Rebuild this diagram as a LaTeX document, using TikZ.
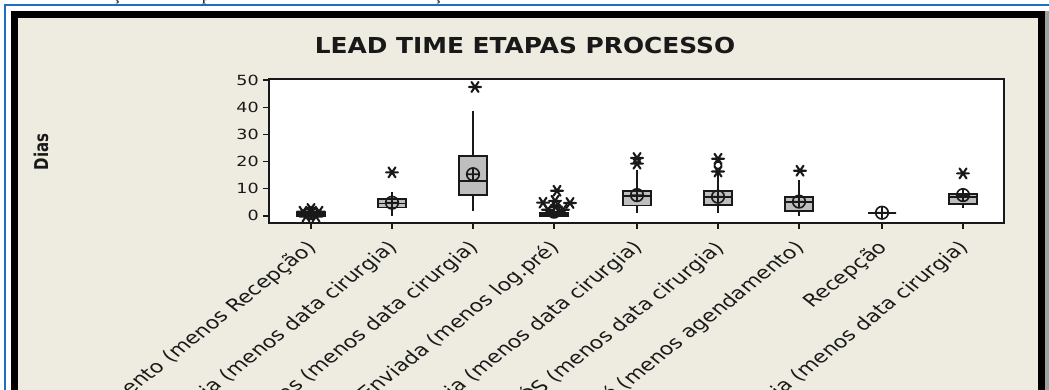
\documentclass[tikz,border=0pt]{standalone}
\usepackage{fontspec}
\setmainfont{DejaVu Sans}
\newfontfamily\capfont{Liberation Serif}
\definecolor{beige}{RGB}{238,235,225}
\definecolor{frameblue}{RGB}{30,112,190}
\definecolor{boxgray}{RGB}{190,190,190}
\definecolor{ink}{RGB}{25,25,25}
\definecolor{edgegray}{RGB}{160,160,160}
\newcommand\bxp[7]{% x, q1, q3, med, wlo, whi, mean
  \draw[whisk] (#1,{vy(#5)}) -- (#1,{vy(#6)});
  \draw[boxst] ({#1-14},{vy(#2)}) rectangle ({#1+14},{vy(#3)});
  \draw[medst] ({#1-14},{vy(#4)}) -- ({#1+14},{vy(#4)});
  \draw[meanst] (#1,{vy(#7)}) circle (6.3) +(-6.3,0) -- +(6.3,0) +(0,-6.3) -- +(0,6.3);
}
\newcommand\mstar[2]{%
  \draw[starst] (#1,{vy(#2)}) +(-6,0) -- +(6,0) +(-3.5,-5) -- +(3.5,5) +(-3.5,5) -- +(3.5,-5);
}
\begin{document}
\begin{tikzpicture}[x=1pt,y=-1pt,
  declare function={vy(\v)=215.7-2.71*\v;},
  whisk/.style={line width=2pt, draw=ink},
  boxst/.style={line width=1.8pt, draw=ink, fill=boxgray},
  medst/.style={line width=1.8pt, draw=ink},
  meanst/.style={line width=1.6pt, draw=ink},
  starst/.style={line width=2.1pt, draw=ink, line cap=round},
  axisline/.style={line width=2pt, draw=ink},
  tickst/.style={line width=1.6pt, draw=ink},
  ticklab/.style={font=\fontsize{14}{14}\selectfont, text=ink, anchor=east, inner sep=0pt, xscale=1.25},
  catlab/.style={font=\fontsize{17.5}{17.5}\selectfont, text=ink, anchor=east, inner sep=0pt, xscale=1.27, rotate=45},
  ]
\useasboundingbox (0,0) rectangle (1049,389);
\clip (0,0) rectangle (1049,389);
% background and frames
\fill[white] (0,0) rectangle (1049,389);
\fill[black] (11,11) rectangle (1045,400);
\fill[edgegray] (1045,11) rectangle (1049,400);
\fill[beige] (18,18) rectangle (1038,400);
\draw[frameblue, line width=2pt] (5,400) -- (5,5) -- (1049,5);
% cut caption fragments at the very top
\node[font=\capfont\fontsize{16}{16}\selectfont, anchor=base, inner sep=0pt] (c1) at (117,0.5) {ç};
\node[font=\capfont\fontsize{16}{16}\selectfont, anchor=base, inner sep=0pt] (c2) at (206,0.5) {p};
\node[font=\capfont\fontsize{16}{16}\selectfont, anchor=base, inner sep=0pt] (c3) at (438,0.5) {ç};
% title and axis title
\node[font=\bfseries\fontsize{22}{22}\selectfont, text=ink, inner sep=0pt, xscale=1.13] (title) at (525,45) {LEAD TIME ETAPAS PROCESSO};
\node[font=\bfseries\fontsize{15}{15}\selectfont, text=ink, inner sep=0pt, xscale=1.27, rotate=90] (dias) at (41,152) {Dias};
% plot area
\fill[white] (269,79) rectangle (1004,223);
% y ticks
\foreach \v in {0,10,20,30,40,50} {
  \draw[tickst] (263,{vy(\v)}) -- (269,{vy(\v)});
  \node[ticklab] (yl\v) at (259,{vy(\v)}) {\v};
}
% categories
\foreach \i/\x in {1/311,2/392,3/473,4/554,5/637,6/718,7/799,8/882,9/963} {
  \draw[tickst] (\x,223) -- (\x,229);
}
% box plots
% 1
\bxp{311}{0}{1}{0.5}{0}{1}{1}
\mstar{303}{1.5}\mstar{319}{1.5}\mstar{311}{2.5}\mstar{306}{-0.3}\mstar{316}{-0.3}\mstar{311}{0.8}
% 2
\bxp{392}{3}{6.2}{4.5}{0}{8.7}{4.8}
\mstar{392}{16}
% 3
\bxp{473}{7.6}{22}{12.9}{1.8}{38.7}{15.3}
\mstar{475}{47.5}
% 4
\bxp{554}{0}{1}{0.5}{0}{1}{1.5}
\mstar{543}{4.8}\mstar{570}{4.7}\mstar{557}{9.2}\mstar{556}{3.3}\mstar{548}{2.2}\mstar{563}{2.2}\mstar{555}{5.5}
% 5
\bxp{637}{3.8}{9.1}{7.4}{1}{16.9}{7.6}
\mstar{637}{19.2}\mstar{637}{21.3}
% 6
\bxp{718}{4}{9}{6.8}{1}{16}{7}
\mstar{718}{16.3}\mstar{718}{21}
\draw[meanst] (718,{vy(18.6)}) circle (3.5);
% 7
\bxp{799}{1.8}{7}{5}{0}{13}{5.2}
\mstar{800}{16.6}
% 8
\bxp{882}{1.1}{1.1}{1.1}{1.1}{1.1}{1.1}
% 9
\bxp{963}{4.2}{8}{6.8}{2.8}{10}{7.6}
\mstar{963}{15.6}
% frame
\draw[axisline] (269,79) rectangle (1004,223);
% category labels
\node[catlab] (l1) at (313,245) {mento (menos Recepção)};
\node[catlab] (l2) at (394,245) {ria (menos data cirurgia)};
\node[catlab] (l3) at (475,245) {ias (menos data cirurgia)};
\node[catlab] (l4) at (556,245) {Enviada (menos log.pré)};
\node[catlab] (l5) at (639,245) {ia (menos data cirurgia)};
\node[catlab] (l6) at (720,245) {ÓS (menos data cirurgia)};
\node[catlab] (l7) at (801,245) {é (menos agendamento)};
\node[catlab] (l8) at (884,245) {Recepção};
\node[catlab] (l9) at (965,245) {ia (menos data cirurgia)};
\end{tikzpicture}
\end{document}
